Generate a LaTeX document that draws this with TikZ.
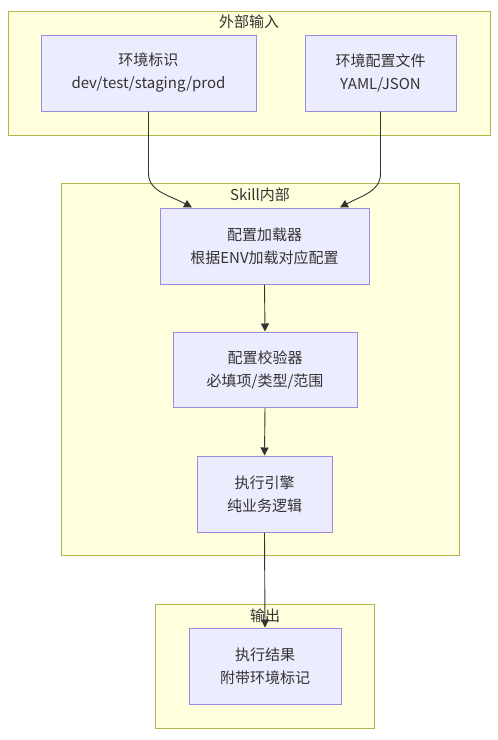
\documentclass[tikz,border=0pt]{standalone}
\usepackage{fontspec}
\setmainfont{Noto Sans CJK SC}
\usetikzlibrary{arrows.meta}
\definecolor{clfill}{HTML}{FFFFDE}
\definecolor{cldraw}{HTML}{B4B44A}
\definecolor{ndfill}{HTML}{ECECFF}
\definecolor{nddraw}{HTML}{A08AE0}
\definecolor{edge}{HTML}{333333}
\definecolor{txt}{HTML}{333333}
\tikzset{
  cluster/.style={draw=cldraw, fill=clfill, line width=1pt},
  cltitle/.style={text=txt, font=\fontsize{15}{18}\selectfont, inner sep=0pt},
  box/.style={draw=nddraw, fill=ndfill, line width=1pt, text=txt, align=center,
    font=\fontsize{15}{23}\selectfont, inner sep=0pt},
  conn/.style={draw=edge, line width=0.9pt, -{Triangle[length=8pt,width=8pt]}},
}
\begin{document}
\begin{tikzpicture}[x=1pt,y=-1pt]
\useasboundingbox (0,0) rectangle (498,740);
% clusters
\draw[cluster] (8,11) rectangle (490,135);
\node[cltitle] (t1) at (249,22) {外部输入};
\draw[cluster] (61,183) rectangle (459,555);
\node[cltitle] (t2) at (260,195) {Skill内部};
\draw[cluster] (155,604) rectangle (374,728);
\node[cltitle] (t3) at (265,616) {输出};
% nodes
\node[box, minimum width=215pt, minimum height=76pt] (env) at (148.5,73) {环境标识\\dev/test/staging/prod};
\node[box, minimum width=151pt, minimum height=76pt] (cfg) at (380.5,73) {环境配置文件\\YAML/JSON};
\node[box, minimum width=209pt, minimum height=76pt] (load) at (264.5,246) {配置加载器\\根据ENV加载对应配置};
\node[box, minimum width=184pt, minimum height=75pt] (chk) at (265,369.5) {配置校验器\\必填项/类型/范围};
\node[box, minimum width=135pt, minimum height=76pt] (eng) at (264.5,494) {执行引擎\\纯业务逻辑};
\node[box, minimum width=152pt, minimum height=76pt] (res) at (265,666) {执行结果\\附带环境标记};
% edges
\draw[conn] (env.south) -- ++(0,62) .. controls ++(0,18) and ++(-22,-12) .. ([xshift=-72.5pt]load.north);
\draw[conn] (cfg.south) -- ++(0,62) .. controls ++(0,18) and ++(22,-12) .. ([xshift=75.5pt]load.north);
\draw[conn] (load.south) -- (chk.north);
\draw[conn] (chk.south) -- (eng.north);
\draw[conn] (eng.south) -- (res.north);
\end{tikzpicture}
\end{document}
